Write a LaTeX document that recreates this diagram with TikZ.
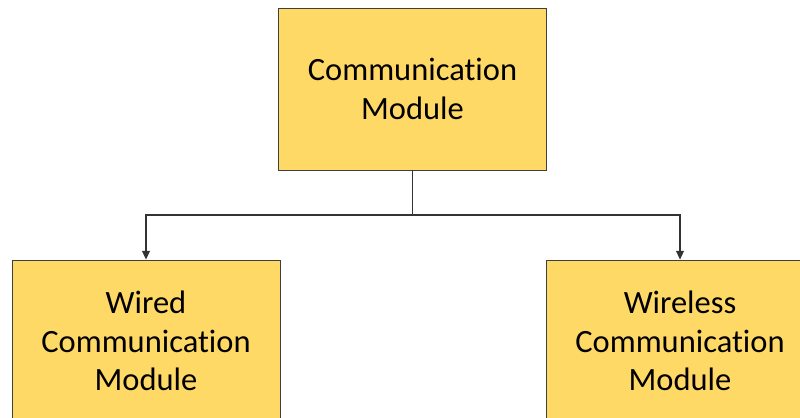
\documentclass[tikz,border=0pt]{standalone}
\usepackage{fontspec}
\setmainfont[Ligatures={NoCommon,NoRare}]{Carlito}
\usetikzlibrary{arrows.meta}
\definecolor{boxyellow}{HTML}{FFD966}
\definecolor{boxline}{HTML}{3F3F3F}

\begin{document}
\begin{tikzpicture}[x=0.02cm,y=-0.02cm,>={Triangle[length=5pt,width=4.5pt]},
                    module/.style={rectangle,draw=boxline,line width=0.5pt,fill=boxyellow,
                      minimum width=5.36cm,minimum height=3.24cm,align=center,
                      font=\fontsize{18.5}{22}\selectfont,inner sep=0pt},
                    link/.style={->,line width=0.7pt,draw=black!80}]
\useasboundingbox (0,0) rectangle (800,417);
\clip (0,0) rectangle (800,417);

\node[module] (comm) at (412.5,89) {Communication\\Module};
\node[module] (wired) at (146,341) {Wired\\Communication\\Module};
\node[module] (wireless) at (680,341) {Wireless\\Communication\\Module};

\coordinate (split) at (412.5,215);

\draw[line width=0.7pt,draw=black!80] (comm.south) -- (split);
\draw[link] (split) -| (wired.north);
\draw[link] (split) -| (wireless.north);

\end{tikzpicture}
\end{document}
